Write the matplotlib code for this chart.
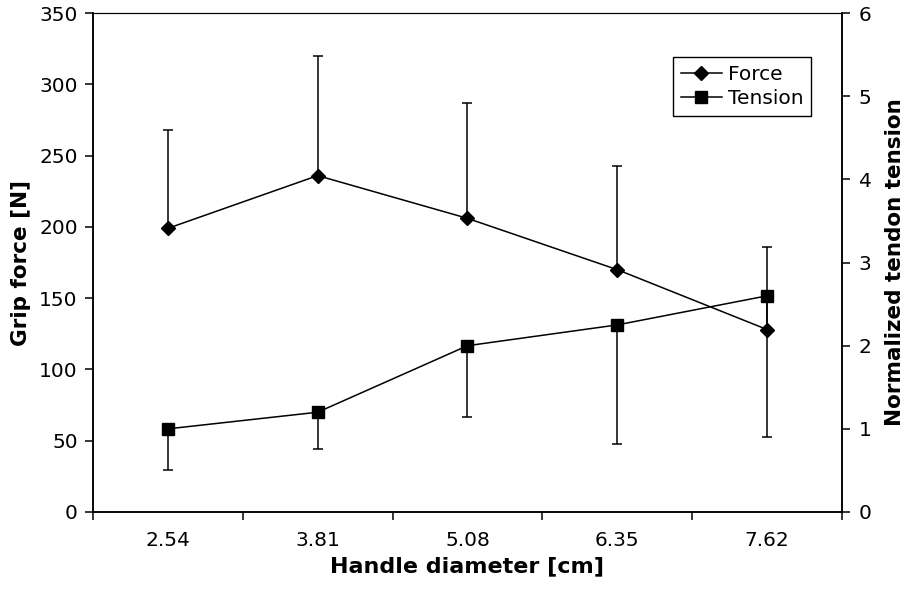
import numpy as np
import matplotlib.pyplot as plt
from matplotlib.lines import Line2D
from matplotlib.ticker import FixedLocator, NullFormatter

diameters = ['2.54', '3.81', '5.08', '6.35', '7.62']
force = [199, 236, 206, 170, 128]
force_upper = [268, 320, 287, 243, 186]
tension = [1.0, 1.2, 2.0, 2.25, 2.6]
tension_lower = [0.5, 0.76, 1.14, 0.82, 0.9]

x = np.arange(len(diameters))
force_err = [np.zeros(len(force)), np.array(force_upper) - np.array(force)]
tension_err = [np.array(tension) - np.array(tension_lower), np.zeros(len(tension))]

fig = plt.figure(figsize=(9.09, 5.95), dpi=100)
ax = fig.add_axes([0.1023, 0.1395, 0.824, 0.8385])
ax2 = ax.twinx()

ax.errorbar(x, force, yerr=force_err, color='black', lw=1.1, elinewidth=1.1,
            capsize=3.5, capthick=1.1, marker='D', markersize=7)
ax2.errorbar(x, tension, yerr=tension_err, color='black', lw=1.1, elinewidth=1.1,
             capsize=3.5, capthick=1.1, marker='s', markersize=9)

ax.set_xlim(-0.5, len(diameters) - 0.5)
ax.set_ylim(0, 350)
ax.set_yticks(np.arange(0, 351, 50))
ax2.set_ylim(0, 6)
ax2.set_yticks(np.arange(0, 7, 1))

ax.set_xticks(x)
ax.set_xticklabels(diameters)
ax.xaxis.set_minor_locator(FixedLocator(np.arange(-0.5, len(diameters), 1.0)))
ax.xaxis.set_minor_formatter(NullFormatter())
ax.tick_params(axis='x', which='major', length=0, labelsize=14.5, pad=14)
ax.tick_params(axis='x', which='minor', length=6, width=1.1, direction='out')
ax.tick_params(axis='y', length=6, width=1.1, direction='out', labelsize=14.5, pad=5)
ax2.tick_params(axis='y', length=6, width=1.1, direction='out', labelsize=14.5, pad=6)

for a in (ax, ax2):
    for s in a.spines.values():
        s.set_linewidth(1.1)
    a.spines['top'].set_linewidth(0.8)

ax.set_xlabel('Handle diameter [cm]', fontsize=16, fontweight='bold', labelpad=4)
ax.set_ylabel('Grip force [N]', fontsize=15.5, fontweight='bold', labelpad=6)
ax2.set_ylabel('Normalized tendon tension', fontsize=15.5, fontweight='bold', labelpad=10)

handles = [Line2D([], [], color='black', lw=1.1, marker='D', markersize=7),
           Line2D([], [], color='black', lw=1.1, marker='s', markersize=9)]
leg = ax2.legend(handles, ['Force', 'Tension'], loc='upper right',
                 bbox_to_anchor=(0.959, 0.912), borderaxespad=0, fontsize=14.5,
                 fancybox=False, framealpha=1, edgecolor='black',
                 handlelength=2.0, handletextpad=0.3, borderpad=0.4,
                 labelspacing=0.25)
leg.get_frame().set_linewidth(1.0)

fig.savefig('out.png', dpi=100)
